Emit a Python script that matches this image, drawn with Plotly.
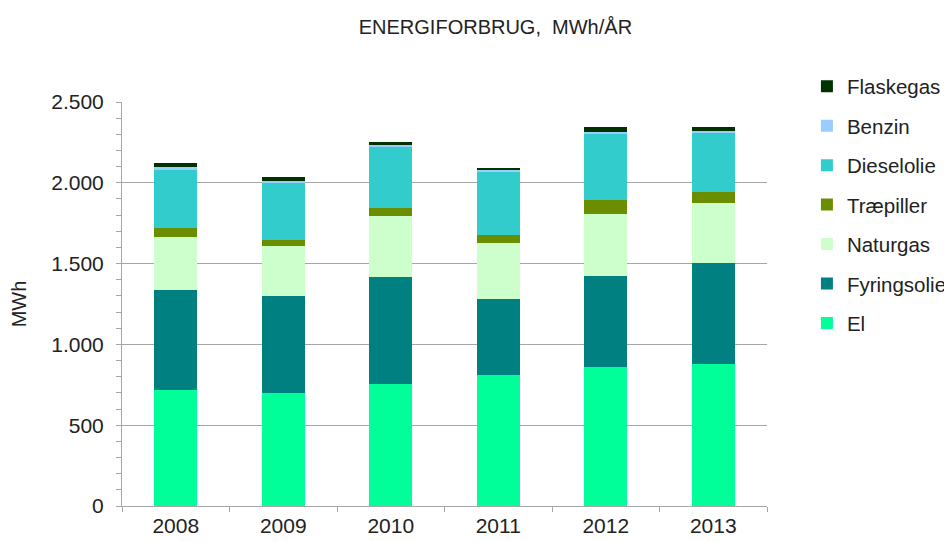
import plotly.graph_objects as go

years = ["2008", "2009", "2010", "2011", "2012", "2013"]

el = [718, 701, 757, 813, 862, 877]
fyringsolie = [619, 599, 660, 468, 563, 625]
naturgas = [326, 307, 380, 349, 380, 375]
traepiller = [55, 39, 47, 47, 89, 64]
dieselolie = [361, 357, 378, 390, 410, 373]
benzin = [19, 8, 12, 10, 8, 9]
flaskegas = [25, 25, 16, 15, 33, 22]

series = [
    ("El", el, "#00ff99"),
    ("Fyringsolie", fyringsolie, "#008080"),
    ("Naturgas", naturgas, "#ccffcc"),
    ("Træpiller", traepiller, "#6b8e00"),
    ("Dieselolie", dieselolie, "#33cccc"),
    ("Benzin", benzin, "#99ccff"),
    ("Flaskegas", flaskegas, "#003300"),
]

fig = go.Figure()
for i, (name, vals, col) in enumerate(series):
    fig.add_trace(go.Bar(
        x=years, y=vals, name=name, legendgroup=name,
        legendrank=len(series) - i,
        marker=dict(color=col, line=dict(width=0)),
    ))

font = "Liberation Sans, Arial, sans-serif"
fig.update_layout(
    barmode="stack",
    bargap=0.6,
    width=952, height=541,
    paper_bgcolor="white", plot_bgcolor="white",
    margin=dict(l=114, r=193, t=94, b=43, autoexpand=False),
    font=dict(family=font, size=21, color="#222222"),
    separators=",.",
    title=dict(text="ENERGIFORBRUG,  MWh/ÅR", x=0.512, xanchor="center",
               y=0.965, yanchor="middle", font=dict(size=20, color="#222222")),
    showlegend=True,
    legend=dict(traceorder="grouped", tracegroupgap=9.8,
                xref="container", yref="container",
                x=0.8392, xanchor="left", y=0.892, yanchor="top",
                font=dict(size=20.5, color="#222222"),
                itemwidth=30, bgcolor="rgba(0,0,0,0)"),
)
fig.update_yaxes(
    range=[0, 2500], dtick=500, tickformat=",d",
    showgrid=True, gridcolor="#a6a6a6", gridwidth=1,
    showline=True, linecolor="#a6a6a6", linewidth=1,
    ticks="outside", ticklen=5, tickcolor="#a6a6a6",
    minor=dict(dtick=100, ticks="outside", ticklen=5, tickcolor="#a6a6a6", showgrid=False),
    title=dict(text="MWh", font=dict(size=20), standoff=20),
    tickfont=dict(size=21),
    ticklabelstandoff=8,
    zeroline=False, automargin=False,
)
fig.update_xaxes(
    showline=True, linecolor="#a6a6a6", linewidth=1,
    ticks="outside", ticklen=5, tickcolor="#a6a6a6", tickson="boundaries",
    tickfont=dict(size=21), showgrid=False,
    ticklabelstandoff=1, automargin=False,
)
fig.write_html("out.html")
